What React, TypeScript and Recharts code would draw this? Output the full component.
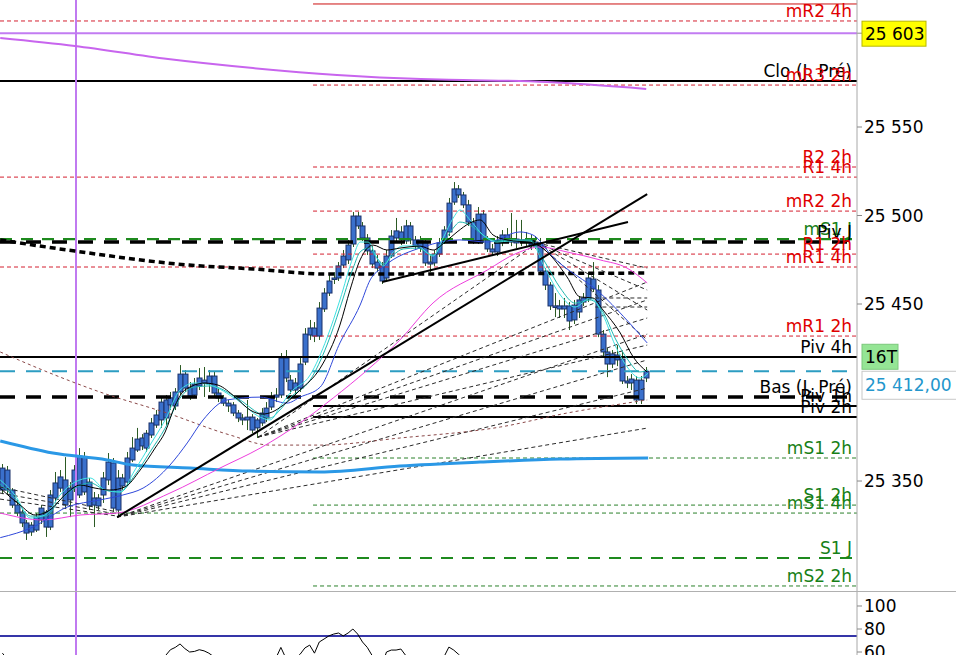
import React from 'react';
import { ComposedChart, LineChart, Line, Bar, XAxis, YAxis, ReferenceLine } from 'recharts';

const opens = [25344.9,25356.2,25344.9,25336.4,25332.5,25326.3,25321.2,25322.3,25328.0,25332.5,25324.0,25340.4,25346.0,25350.6,25339.3,25346.0,25342.1,25363.5,25349.4,25336.4,25340.4,25342.1,25350.6,25360.2,25333.6,25351.7,25349.4,25361.9,25367.5,25374.3,25368.6,25376.0,25381.6,25384.5,25395.8,25393.0,25392.4,25400.3,25410.4,25402.5,25398.6,25403.7,25407.0,25404.8,25409.3,25399.7,25396.9,25394.0,25393.0,25388.4,25385.6,25384.5,25386.1,25380.0,25382.8,25385.6,25391.8,25397.4,25398.6,25419.5,25407.0,25401.4,25402.5,25417.2,25432.5,25436.4,25431.9,25447.2,25456.2,25464.1,25464.7,25472.0,25474.9,25483.9,25499.7,25494.1,25487.3,25480.0,25473.7,25471.5,25464.7,25477.1,25487.3,25490.7,25485.6,25494.1,25486.2,25481.6,25485.0,25473.7,25473.2,25478.2,25486.2,25490.7,25507.6,25515.0,25511.6,25506.0,25496.3,25485.6,25500.8,25486.2,25481.1,25479.4,25485.0,25489.0,25486.7,25484.5,25486.2,25485.0,25486.2,25482.7,25484.5,25468.6,25460.7,25448.3,25448.9,25447.2,25448.9,25441.0,25445.5,25451.1,25452.8,25464.1,25457.9,25433.0,25422.9,25416.1,25421.2,25418.9,25406.5,25405.4,25407.0,25395.8,25408.2];
const highs = [25359.6,25358.5,25346.0,25339.3,25334.7,25328.0,25326.8,25331.9,25336.4,25333.6,25344.9,25355.1,25356.2,25363.5,25349.4,25359.0,25368.6,25366.4,25351.7,25343.8,25342.6,25355.1,25365.8,25363.0,25356.2,25354.0,25366.4,25374.8,25380.0,25376.5,25378.8,25385.6,25390.1,25398.0,25398.6,25400.3,25402.5,25415.5,25412.7,25405.9,25408.2,25413.8,25414.4,25412.7,25412.0,25402.5,25398.6,25395.8,25394.6,25390.1,25387.8,25395.8,25387.8,25385.6,25391.2,25394.6,25400.3,25402.5,25422.3,25424.0,25409.9,25408.2,25419.5,25436.4,25441.0,25439.8,25451.1,25459.0,25466.4,25468.0,25473.7,25480.5,25486.2,25502.0,25502.0,25496.3,25489.5,25482.7,25477.7,25473.7,25480.5,25491.8,25498.6,25494.0,25497.5,25496.3,25488.4,25488.4,25487.3,25477.7,25480.5,25487.3,25494.0,25509.9,25518.9,25517.2,25513.3,25508.8,25498.6,25504.8,25503.1,25488.4,25483.9,25488.4,25491.8,25492.9,25501.4,25497.5,25497.5,25490.7,25489.0,25488.4,25487.3,25470.3,25462.4,25456.2,25452.3,25453.4,25451.1,25452.3,25454.5,25456.2,25468.0,25473.7,25460.7,25435.3,25425.1,25424.0,25426.8,25422.9,25409.3,25410.4,25409.3,25409.3,25414.4];
const lows = [25342.6,25342.1,25334.8,25330.2,25324.0,25316.7,25319.0,25321.2,25325.7,25318.4,25322.3,25338.1,25343.8,25334.7,25329.6,25343.8,25340.4,25342.1,25333.6,25324.0,25333.6,25337.6,25347.7,25332.5,25329.6,25345.0,25347.7,25360.7,25366.4,25367.5,25366.4,25374.3,25380.0,25380.0,25381.6,25390.1,25390.1,25398.6,25400.3,25395.8,25396.9,25401.4,25397.5,25400.3,25398.0,25394.6,25392.4,25389.0,25386.7,25383.3,25381.6,25378.8,25377.1,25374.3,25381.1,25383.3,25390.1,25394.6,25396.9,25405.9,25399.2,25398.6,25400.3,25415.5,25429.7,25428.5,25429.7,25445.5,25454.5,25461.3,25463.0,25470.3,25472.6,25482.2,25492.4,25485.6,25477.7,25470.3,25468.0,25461.3,25463.0,25476.0,25485.0,25483.3,25483.9,25483.9,25480.5,25479.4,25471.5,25468.0,25471.5,25476.6,25483.9,25488.4,25506.0,25509.9,25504.2,25494.1,25483.9,25483.9,25484.5,25479.4,25477.1,25477.1,25482.7,25485.0,25482.7,25481.6,25482.7,25482.7,25480.5,25481.1,25466.9,25457.9,25446.6,25442.6,25442.1,25442.1,25435.3,25438.7,25442.1,25448.9,25451.1,25456.8,25431.3,25420.6,25408.7,25413.8,25414.9,25404.8,25402.5,25401.4,25393.5,25393.5,25405.9];
const closes = [25357.3,25344.9,25336.4,25331.9,25326.3,25320.6,25325.1,25329.6,25334.7,25324.0,25342.1,25348.9,25352.3,25336.4,25346.0,25356.2,25364.1,25343.8,25335.9,25340.4,25335.9,25351.7,25360.7,25334.7,25351.7,25347.2,25363.0,25368.6,25373.7,25369.8,25377.0,25382.8,25387.3,25394.6,25385.6,25397.0,25400.3,25410.4,25402.5,25398.0,25404.8,25408.2,25405.4,25409.3,25399.7,25396.9,25394.0,25392.4,25388.4,25385.6,25384.5,25386.1,25378.8,25384.5,25388.4,25391.2,25397.4,25398.6,25419.5,25408.2,25401.4,25405.4,25416.1,25433.0,25436.4,25431.9,25447.7,25456.2,25463.0,25464.7,25471.5,25477.1,25483.3,25499.7,25494.1,25487.3,25480.0,25472.6,25470.3,25463.0,25477.1,25488.4,25491.3,25486.7,25494.1,25486.2,25482.8,25486.2,25473.2,25472.6,25478.2,25484.5,25491.8,25507.0,25515.0,25511.6,25506.0,25496.3,25485.6,25500.8,25486.2,25481.1,25479.4,25485.6,25489.0,25486.7,25485.0,25486.7,25485.0,25486.2,25483.3,25485.0,25468.6,25460.7,25448.9,25448.9,25447.2,25448.9,25440.4,25449.4,25452.3,25453.4,25464.7,25458.5,25433.0,25422.9,25416.1,25421.8,25418.4,25406.5,25405.4,25407.6,25395.8,25407.0,25412.0];

const oscValues = [59,54,48,42,36,30,28,32,38,35,42,48,52,50,45,47,53,50,44,40,38,44,50,46,42,45,50,53,55,52,54,55,54,55,57,62,64,67,63,60,60.5,62,61,59,56,50,44,40,36,33,32,35,30,32,38,44,50,55,64,55,52,54,58,63.5,66,59,68.7,71.3,74,75.6,76.5,74,76.5,80,75.6,68.7,64,57,50,48,60,61.7,61.7,62.6,57,54,50,52,46,44,48,53,56,64.3,61.7,58,54,48,44,52,48,45,44,47,50,49,48,50,49,50,48,49,40,34,28,27,28,30,26,32,36,38,48,45,32,25,22,26,28,22,20,22,18,25,32];

// moving averages: [bar index, price]
const maBlack = [[-0.45,25346.0],[3.7,25336.4],[6.8,25330.8],[9.9,25333.6],[13.0,25342.1],[16.2,25347.7],[19.3,25346.0],[22.4,25344.9],[25.5,25346.6],[28.7,25356.2],[31.8,25368.6],[33.9,25377.7],[36.0,25392.9],[38.0,25401.4],[42.2,25405.3],[44.9,25404.2],[48.5,25397.4],[51.6,25390.1],[54.1,25387.8],[56.2,25389.0],[58.5,25392.9],[62.0,25401.4],[66.2,25413.8],[70.3,25438.1],[72.4,25457.9],[74.5,25474.9],[77.2,25483.3],[80.1,25480.5],[82.8,25481.6],[87.0,25482.7],[89.7,25480.5],[92.2,25485.0],[94.7,25490.7],[97.4,25495.8],[99.5,25497.5],[102.2,25489.0],[105.1,25486.2],[110.5,25484.5],[113.45,25479.4],[117.6,25465.3],[120.3,25454.0],[123.0,25453.4],[125.1,25446.6],[128.7,25433.6],[131.4,25420.0],[134.3,25411.6]];
const maCyanA = [[-0.45,25350.6],[2.6,25342.1],[5.8,25329.1],[8.9,25330.8],[12.0,25342.1],[15.1,25349.4],[18.3,25351.7],[21.4,25344.9],[24.5,25343.8],[27.6,25356.2],[30.75,25370.3],[33.9,25384.5],[37.0,25401.4],[40.1,25405.4],[43.25,25404.2],[48.9,25395.8],[53.7,25386.1],[55.75,25384.5],[57.8,25391.8],[59.9,25399.7],[64.1,25409.9],[67.6,25430.8],[70.3,25452.3],[73.05,25476.5],[74.5,25485.0],[76.2,25485.0],[78.0,25476.0],[79.3,25471.5],[81.4,25479.4],[83.5,25482.8],[86.4,25482.8],[89.7,25477.1],[91.8,25487.3],[93.9,25498.6],[95.3,25503.1],[97.4,25497.5],[100.1,25489.0],[103.0,25485.0],[105.75,25485.6],[109.9,25485.6],[113.0,25470.3],[116.2,25455.1],[119.3,25448.3],[122.4,25453.4],[125.1,25443.8],[127.6,25426.8],[130.3,25413.8],[132.8,25408.2],[134.5,25411.0]];
const maCyanB = [[-0.45,25348.3],[2.6,25340.4],[5.8,25330.2],[8.9,25330.2],[12.0,25339.3],[15.1,25346.0],[18.3,25348.9],[21.4,25344.9],[24.5,25343.8],[27.6,25353.4],[30.75,25366.4],[33.9,25379.9],[37.0,25396.9],[40.1,25403.1],[43.25,25403.7],[48.9,25396.9],[53.7,25387.8],[55.75,25385.6],[57.8,25390.1],[59.9,25396.9],[64.1,25407.0],[67.6,25426.8],[70.3,25447.7],[73.05,25470.3],[74.5,25479.4],[76.2,25481.6],[78.0,25476.0],[79.3,25472.6],[81.4,25477.7],[83.5,25481.1],[86.4,25481.6],[89.7,25477.7],[91.8,25484.5],[93.9,25492.9],[95.3,25496.3],[97.4,25494.6],[100.1,25489.0],[103.0,25485.6],[105.75,25486.2],[109.9,25486.2],[113.0,25473.7],[116.2,25459.0],[119.3,25450.5],[122.4,25452.3],[125.1,25445.5],[127.6,25430.8],[130.3,25418.4],[132.8,25411.6],[134.5,25412.7]];
const maBlue = [[-0.45,25318.0],[6.4,25324.0],[13.5,25335.3],[20.3,25339.3],[25.1,25342.1],[29.3,25346.0],[34.9,25359.0],[38.5,25371.5],[41.8,25384.5],[46.8,25395.8],[53.7,25397.4],[59.3,25394.0],[62.0,25397.4],[66.2,25403.1],[70.3,25428.0],[74.5,25449.4],[76.6,25463.6],[79.3,25470.9],[87.6,25482.2],[95.3,25486.2],[101.0,25485.0],[107.8,25490.7],[110.5,25489.0],[114.7,25476.5],[124.5,25456.2],[134.3,25428.0]];
const maPink = [[-0.45,25331.9],[8.5,25328.0],[16.2,25330.8],[23.9,25331.9],[34.9,25343.2],[45.3,25357.3],[53.7,25368.6],[62.0,25382.8],[68.9,25396.9],[76.0,25412.7],[82.8,25429.7],[89.7,25450.6],[101.0,25469.2],[107.2,25478.8],[112.0,25482.2],[117.6,25479.4],[124.5,25474.9],[130.1,25470.3],[134.3,25461.9]];
const maLightBlue = [[-0.45,25372.6],[10.5,25365.8],[21.8,25361.9],[27.2,25359.0],[39.1,25357.3],[51.6,25355.6],[66.2,25355.1],[82.8,25358.5],[99.5,25360.7],[116.2,25362.4],[134.5,25363.0]];
const maViolet = [[-0.45,25600.3],[15.1,25595.8],[34.5,25588.4],[52.2,25583.3],[69.7,25579.4],[87.2,25577.1],[95.95,25576.6],[113.45,25575.4],[134.1,25571.5]];
const maDotted = [[-0.45,25486.2],[15.1,25479.9],[38.9,25472.0],[52.2,25469.8],[67.8,25466.9],[134.1,25467.5]];
const maBrown = [[-0.45,25422.9],[9.9,25411.0],[20.3,25400.3],[34.3,25388.4],[47.4,25376.0],[55.75,25370.3],[66.2,25370.3],[82.8,25374.3],[103.7,25380.5],[117.6,25388.4],[131.4,25394.6],[134.3,25395.8]];

// drawn lines: [index1, price1, index2, price2]
const trendLines = [[23.9,25329.6,134.3,25512.1],[79.1,25462.4,130.3,25496.3]];
const fanLines = [
  [-0.5,25346.6,23.9,25332.5],[-0.5,25343.2,23.9,25331.3],[-0.5,25339.8,23.9,25330.2],
  [23.9,25329.6,134.3,25433.0],[23.9,25329.6,134.3,25418.4],[23.9,25329.6,134.3,25402.5],[23.9,25329.6,134.3,25379.9],
  [53.25,25374.8,111.4,25484.5],[53.25,25374.8,134.3,25462.4],[53.25,25374.8,134.3,25452.3],[53.25,25374.8,134.3,25442.1],[53.25,25374.8,134.3,25426.8],
  [111.4,25484.5,134.3,25470.3],[111.4,25484.5,134.3,25457.9],[111.4,25484.5,134.3,25446.6],[111.4,25484.5,134.3,25429.7],
  [123.5,25453.4,134.3,25453.4],[123.5,25448.3,134.3,25448.3],
];

// horizontal levels
const levelLabels = ['', 'mR2 4h', '', 'Clo (J. Pré)', 'mR3 2h', 'R2 2h', 'R1 4h', 'mR2 2h', 'mS1 J', 'Piv J', 'R1 2h', 'mR1 4h', 'mR1 2h', 'Piv 4h', '', 'Bas (J. Pré)', 'Piv 1h', 'Piv 2h', 'mS1 2h', 'S1 2h', 'mS1 4h', 'S1 J', 'mS2 2h'];
const levelValues = [25619.5, 25609.9, 25603, 25576.0, 25573.7, 25527.4, 25521.7, 25502.5, 25486.7, 25485.0, 25478.2, 25470.9, 25431.9, 25420.0, 25412.0, 25397.4, 25392.4, 25386.1, 25363.0, 25336.4, 25331.9, 25306.5, 25290.7];
const levelStarts = [64.7, -0.5, -0.5, -0.5, 64.7, 64.7, -0.5, 64.7, -0.5, -0.5, 64.7, -0.5, 64.7, -0.5, -0.5, -0.5, 64.7, 64.7, 64.7, 64.7, -0.5, -0.5, 64.7];
const levelKinds = ['redSolid', 'redDash', 'purple', 'blackSolid', 'redDash', 'redDash', 'redDash', 'redDash', 'greenThick', 'blackThick', 'redDash', 'redDash', 'redDash', 'blackSolid', 'cyan', 'blackThick', 'blackSolid', 'blackSolid', 'greenDash', 'greenDash', 'greenDash', 'greenThick', 'greenDash'];

const yTicks = [25350, 25450, 25500, 25550];
const oscTicks = [100, 80, 60];
const separatorIndex = 15.33;
const lastPriceText = '25 412,00';
const markerPriceText = '25 603';
const timerText = '16T';

const X_MAX = 178;
const FONT = 'DejaVu Sans';

const kindStyle: Record<string, any> = {
  redSolid: { stroke: '#CC1010', strokeWidth: 1, dash: undefined, text: '#E00000' },
  redDash: { stroke: '#D42030', strokeWidth: 1, dash: '4 3', text: '#E00000' },
  purple: { stroke: '#C27CF2', strokeWidth: 2, dash: undefined, text: '#000' },
  blackSolid: { stroke: '#000', strokeWidth: 2, dash: undefined, text: '#000' },
  blackThick: { stroke: '#000', strokeWidth: 3.5, dash: '15 11', text: '#000' },
  greenThick: { stroke: '#1E8A1E', strokeWidth: 2.2, dash: '12 9', text: '#178017' },
  greenDash: { stroke: '#2A802A', strokeWidth: 1, dash: '4 3', text: '#178017' },
  cyan: { stroke: '#2C9DC2', strokeWidth: 2, dash: '15 11', text: '#000' },
};

const toPts = (arr: number[][]) => arr.map(([i, v]) => ({ i, v }));

const candles = opens.map((o, k) => ({ i: k, o, h: highs[k], l: lows[k], c: closes[k], range: [lows[k], highs[k]] }));
const oscData = oscValues.map((v, k) => ({ i: k, v }));

const fmt = (v: number) => `${Math.floor(v / 1000)} ${String(Math.round(v % 1000)).padStart(3, '0')}`;

const Candle = (props: any) => {
  const { x, y, width, height } = props;
  const d = props.payload || props;
  if (x == null || y == null || d == null) return null;
  const top = Math.min(y, y + height);
  const hh = Math.abs(height);
  const span = d.h - d.l;
  const k = span > 0 ? hh / span : 0;
  const cx = Math.round(x + width / 2) + 0.5;
  const bTop = top + (d.h - Math.max(d.o, d.c)) * k;
  const bBot = top + (d.h - Math.min(d.o, d.c)) * k;
  return (
    <g>
      <line x1={cx} x2={cx} y1={top} y2={top + hh} stroke="#2C5A24" strokeWidth={1} />
      <rect x={cx - 2.5} y={bTop} width={5} height={Math.max(1.5, bBot - bTop)} fill="#3A70CC" stroke="#1A3068" strokeWidth={1} />
    </g>
  );
};

const LevelLabel = (props: any) => {
  const vb = props.viewBox || {};
  const right = (vb.x ?? 0) + (vb.width ?? 0);
  const y = vb.y ?? 0;
  return (
    <text x={right - 5} y={y - 4} textAnchor="end" fill={props.color} fontSize={17} fontFamily={FONT}>
      {props.text}
    </text>
  );
};

const MarkerBox = (props: any) => {
  const vb = props.viewBox || {};
  const right = (vb.x ?? 0) + (vb.width ?? 0);
  const y = vb.y ?? 0;
  return (
    <g>
      <line x1={right} x2={right + 5} y1={y} y2={y} stroke="#888" />
      <rect x={right + 5} y={y - 12} width={64} height={25} fill="#FFFF00" stroke="#B8B800" />
      <text x={right + 8} y={y + 1} dominantBaseline="central" fill="#000" fontSize={17} fontFamily={FONT}>{markerPriceText}</text>
    </g>
  );
};

const PriceBox = (props: any) => {
  const vb = props.viewBox || {};
  const right = (vb.x ?? 0) + (vb.width ?? 0);
  const y = vb.y ?? 0;
  return (
    <g>
      <rect x={right + 5} y={y - 27} width={36} height={25} fill="#95E595" stroke="#7CC87C" />
      <text x={right + 8} y={y - 14} dominantBaseline="central" fill="#000" fontSize={17} fontFamily={FONT}>{timerText}</text>
      <rect x={right + 5} y={y} width={110} height={28} fill="#fff" stroke="#C8C8C8" />
      <text x={right + 8} y={y + 14} dominantBaseline="central" fill="#2396CC" fontSize={17} fontFamily={FONT}>{lastPriceText}</text>
    </g>
  );
};

export default function App() {
  return (
    <div style={{ position: 'absolute', left: 0, top: 0, width: 956, height: 655, overflow: 'hidden', background: '#fff' }}>
      <ComposedChart width={956} height={592} data={candles} margin={{ top: 0, right: 0, bottom: 0, left: 0 }}>
        <XAxis dataKey="i" type="number" domain={[-0.5, X_MAX]} hide allowDataOverflow />
        <YAxis
          orientation="right"
          width={99}
          type="number"
          domain={[25287.3, 25621.75]}
          allowDataOverflow
          ticks={yTicks}
          interval={0}
          tickFormatter={fmt}
          tick={{ fill: '#000', fontSize: 17, fontFamily: FONT }}
          tickLine={{ stroke: '#888' }}
          tickSize={5}
          axisLine={{ stroke: '#A8A8A8' }}
        />
        <Bar dataKey="range" barSize={4} shape={<Candle />} isAnimationActive={false} />

        {levelValues.map((v, k) => {
          const st = kindStyle[levelKinds[k]];
          let label: any = undefined;
          if (levelLabels[k]) label = <LevelLabel text={levelLabels[k]} color={st.text} />;
          if (levelKinds[k] === 'purple') label = <MarkerBox />;
          if (levelKinds[k] === 'cyan') label = <PriceBox />;
          return (
            <ReferenceLine
              key={'lv' + k}
              segment={[{ x: levelStarts[k], y: v }, { x: X_MAX, y: v }]}
              stroke={st.stroke}
              strokeWidth={st.strokeWidth}
              strokeDasharray={st.dash}
              label={label}
            />
          );
        })}

        <ReferenceLine x={separatorIndex} stroke="#C07AF0" strokeWidth={2} />

        {fanLines.map((f, k) => (
          <ReferenceLine key={'fan' + k} segment={[{ x: f[0], y: f[1] }, { x: f[2], y: f[3] }]} stroke="#2A2A2A" strokeWidth={1} strokeDasharray="4 3" />
        ))}

        <Line data={toPts(maViolet)} dataKey="v" type="monotone" stroke="#C865EE" strokeWidth={2} dot={false} activeDot={false} isAnimationActive={false} />
        <Line data={toPts(maLightBlue)} dataKey="v" type="monotone" stroke="#2A98E6" strokeWidth={3} dot={false} activeDot={false} isAnimationActive={false} />
        <Line data={toPts(maBrown)} dataKey="v" type="monotone" stroke="#8A4848" strokeWidth={1} strokeDasharray="3 3" dot={false} activeDot={false} isAnimationActive={false} />
        <Line data={toPts(maDotted)} dataKey="v" type="monotone" stroke="#000" strokeWidth={3.5} strokeDasharray="6 4" dot={false} activeDot={false} isAnimationActive={false} />
        <Line data={toPts(maPink)} dataKey="v" type="monotone" stroke="#EE3EDD" strokeWidth={1} dot={false} activeDot={false} isAnimationActive={false} />
        <Line data={toPts(maBlue)} dataKey="v" type="monotone" stroke="#2F48DA" strokeWidth={1} dot={false} activeDot={false} isAnimationActive={false} />
        <Line data={toPts(maCyanB)} dataKey="v" type="monotone" stroke="#1FB8B0" strokeWidth={1} dot={false} activeDot={false} isAnimationActive={false} />
        <Line data={toPts(maCyanA)} dataKey="v" type="monotone" stroke="#3EE2E2" strokeWidth={1} dot={false} activeDot={false} isAnimationActive={false} />
        <Line data={toPts(maBlack)} dataKey="v" type="monotone" stroke="#000" strokeWidth={1} dot={false} activeDot={false} isAnimationActive={false} />

        {trendLines.map((t, k) => (
          <ReferenceLine key={'tr' + k} segment={[{ x: t[0], y: t[1] }, { x: t[2], y: t[3] }]} stroke="#000" strokeWidth={2} />
        ))}
      </ComposedChart>

      <div style={{ position: 'absolute', left: 0, top: 591, width: 956, height: 1, background: '#B0B0B0' }} />

      <div style={{ position: 'absolute', left: 0, top: 592 }}>
        <LineChart width={956} height={63} data={oscData} margin={{ top: 0, right: 0, bottom: 0, left: 0 }}>
          <XAxis dataKey="i" type="number" domain={[-0.5, X_MAX]} hide allowDataOverflow />
          <YAxis
            orientation="right"
            width={99}
            type="number"
            domain={[57.4, 112.17]}
            allowDataOverflow
            ticks={oscTicks}
            interval={0}
            tick={{ fill: '#000', fontSize: 17, fontFamily: FONT }}
            tickLine={{ stroke: '#888' }}
            tickSize={5}
            axisLine={{ stroke: '#A8A8A8' }}
          />
          <ReferenceLine y={74} stroke="#3535A8" strokeWidth={2} />
          <ReferenceLine x={separatorIndex} stroke="#C07AF0" strokeWidth={2} />
          <Line dataKey="v" type="linear" stroke="#000" strokeWidth={1} dot={false} activeDot={false} isAnimationActive={false} />
        </LineChart>
      </div>
    </div>
  );
}
